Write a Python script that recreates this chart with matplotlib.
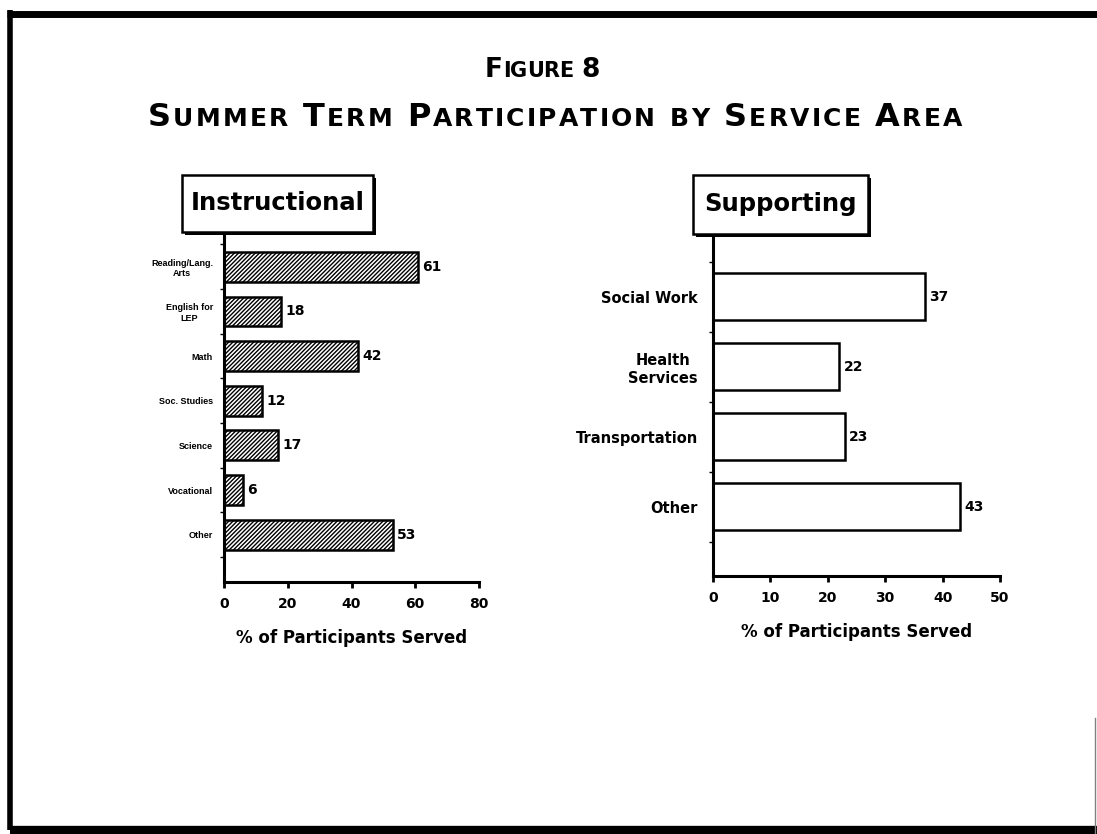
import numpy as np
import matplotlib.pyplot as plt
from matplotlib.patches import Rectangle
from matplotlib.lines import Line2D

# Data
instr_cats = ["Reading/Lang.\nArts", "English for\nLEP", "Math", "Soc. Studies",
              "Science", "Vocational", "Other"]
instr_vals = [61, 18, 42, 12, 17, 6, 53]
instr_ticks = [0, 20, 40, 60, 80]

supp_cats = ["Social Work", "Health\nServices", "Transportation", "Other"]
supp_vals = [37, 22, 23, 43]
supp_ticks = [0, 10, 20, 30, 40, 50]

title1 = "Figure 8"
title2 = "Summer Term Participation by Service Area"

plt.rcParams["font.family"] = "DejaVu Sans"
plt.rcParams["hatch.linewidth"] = 1.0

W, H = 1097, 834
fig = plt.figure(figsize=(W / 100, H / 100), dpi=100)


def fx(px):
    return px / W


def fy(py):
    return 1 - py / H


# Page frame
frame = dict(color="black", transform=fig.transFigure, solid_capstyle="butt")
fig.add_artist(Line2D([fx(7), 1], [fy(13.5), fy(13.5)], lw=5, **frame))
fig.add_artist(Line2D([fx(9.5), fx(9.5)], [fy(10), fy(830)], lw=4, **frame))
fig.add_artist(Line2D([fx(10), 1], [fy(830), fy(830)], lw=6, **frame))
fig.add_artist(Line2D([fx(1095), fx(1095)], [fy(718), fy(834)], lw=1,
                      color="0.5", transform=fig.transFigure))


# Small-caps title lines, spread out to a given pixel span
def small_caps(text, y_px, x0, x1, big, small):
    renderer = fig.canvas.get_renderer()
    chars = []
    for ch in text:
        if ch == " ":
            chars.append((None, big * 0.45))
            continue
        size = big if (ch.isupper() or ch.isdigit()) else small
        t = fig.text(0, fy(y_px), ch.upper(), fontsize=size, fontweight="bold",
                     va="baseline", ha="left")
        w = t.get_window_extent(renderer).width
        chars.append((t, w))
    natural = sum(w for _, w in chars)
    track = (x1 - x0 - natural) / (len(chars) - 1)
    x = x0
    for t, w in chars:
        if t is not None:
            t.set_x(fx(x))
        x += w + track


small_caps(title1, 77, 485, 600, 19, 15)
small_caps(title2, 126, 148, 962, 23, 18)


def label_box(x0, y0, x1, y1, text, size):
    sh = 3
    fig.add_artist(Rectangle((fx(x0 + sh), fy(y1 + sh)), fx(x1 - x0), (y1 - y0) / H,
                             transform=fig.transFigure, facecolor="black",
                             edgecolor="black", lw=0))
    fig.add_artist(Rectangle((fx(x0), fy(y1)), fx(x1 - x0), (y1 - y0) / H,
                             transform=fig.transFigure, facecolor="white",
                             edgecolor="black", lw=1.8))
    fig.text(fx((x0 + x1) / 2), fy((y0 + y1) / 2), text, fontsize=size,
             fontweight="bold", ha="center", va="center")


def panel(rect, cats, vals, ticks, ylim, hatch, cat_font, cat_size, pad):
    ax = fig.add_axes(rect)
    pos = np.arange(len(cats))
    bars = ax.barh(pos, vals, height=0.67, color="white", edgecolor="black",
                   hatch=hatch, linewidth=1.8)
    ax.bar_label(bars, padding=3, fontsize=10, fontweight="bold")
    ax.set_xlim(ticks[0], ticks[-1])
    ax.set_ylim(*ylim)
    ax.set_xticks(ticks)
    ax.set_xticklabels([str(t) for t in ticks], fontsize=10, fontweight="bold")
    ax.set_yticks(pos)
    ax.set_yticklabels(cats, fontsize=cat_size, fontweight="bold",
                       family=cat_font, multialignment="center")
    ax.set_yticks(np.arange(len(cats) + 1) - 0.5, minor=True)
    ax.tick_params(axis="y", which="major", length=0, pad=pad)
    ax.tick_params(axis="y", which="minor", length=3, width=1)
    ax.tick_params(axis="x", direction="out", length=4, width=2, pad=7)
    for s in ["top", "right"]:
        ax.spines[s].set_visible(False)
    for s in ["left", "bottom"]:
        ax.spines[s].set_linewidth(2.2)
    ax.set_xlabel("% of Participants Served", fontsize=12, fontweight="bold",
                  labelpad=13)
    return ax


panel([fx(224), fy(582), fx(479) - fx(224), fy(232) - fy(582)],
      instr_cats, instr_vals, instr_ticks, (7.06, -0.78), "////////",
      "Liberation Sans", 6.5, 8)
panel([fx(713), fy(576), fx(1000) - fx(713), fy(233) - fy(576)],
      supp_cats, supp_vals, supp_ticks, (3.99, -0.91), None,
      "DejaVu Sans", 10.5, 11)

label_box(182, 175, 373, 232, "Instructional", 17.5)
label_box(693, 175, 868, 234, "Supporting", 17.5)

fig.savefig("out.png", dpi=100)
